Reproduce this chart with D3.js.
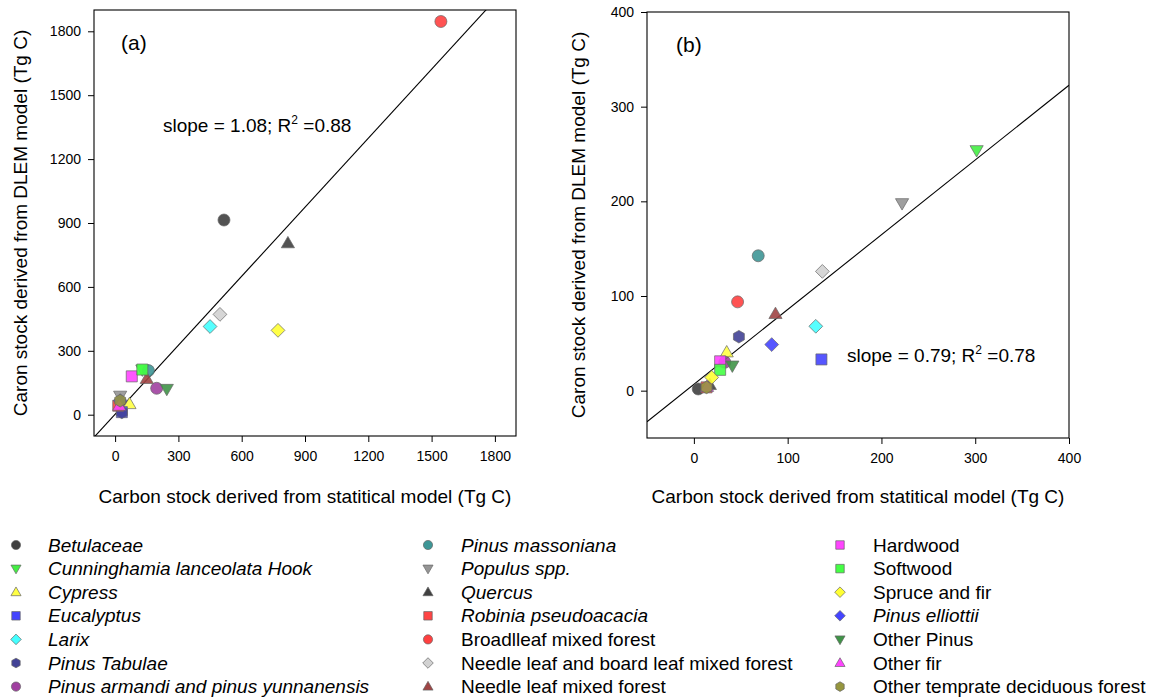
<!DOCTYPE html>
<html><head><meta charset="utf-8">
<script src="https://cdn.jsdelivr.net/npm/d3@7"></script>
<style>body{margin:0;background:#fff}svg{display:block;font-family:"Liberation Sans",Arial,sans-serif}</style>
</head><body><svg id="c" width="1155" height="699"></svg>
<script>
const categories = ["Betulaceae","Cunninghamia lanceolata Hook","Cypress","Eucalyptus","Larix","Pinus Tabulae","Pinus armandi and pinus yunnanensis",
"Pinus massoniana","Populus spp.","Quercus","Robinia pseudoacacia","Broadlleaf mixed forest","Needle leaf and board leaf mixed forest","Needle leaf mixed forest",
"Hardwood","Softwood","Spruce and fir","Pinus elliottii","Other Pinus","Other fir","Other temprate deciduous forest"];
const italicFlags = [1,1,1,1,1,1,1,1,1,1,1,0,0,0,0,0,0,1,0,0,0];
const shapes = ["circle","down","up","square","diamond","hex","circle","circle","down","up","square","circle","diamond","up","square","square","diamond","diamond","down","up","hex"];
const colors = ["#404040","#44ee44","#ffff44","#4444ff","#44ffff","#424296","#a040a0","#3e9696","#959595","#404040","#ff4444","#ff4040","#d2d2d2","#a04444","#ff44ff","#44ff44","#ffff33","#4444ff","#3f9447","#ff44ff","#96963e"];
// Panel (a)
const statA = [516,129,68,32,450,32,197,158,24,819,15,1544,497,150,79,129,772,24,245,20,24];
const dlemA = [914,212,50,12,414,11,124,207,89,805,42,1846,471,168,180,212,396,66,121,42,66];
// Panel (b)
const statB = [4.6,301.5,35,136,130,48,33,68.6,222,17,13.5,46.6,137,87,28,28,19,83,41,14,13.5];
const dlemB = [1.8,254,40.5,33,68,57,30,142.5,198,6,3.5,93.8,126,81,31,22,14,48.7,26.5,4,3.5];
const ticksA = [0,300,600,900,1200,1500,1800];
const ticksB = [0,100,200,300,400];
const fitA = {slope:1.08, intercept:2, label:"slope = 1.08; R", r2:"=0.88", tag:"(a)"};
const fitB = {slope:0.79, intercept:6.7, label:"slope = 0.79; R", r2:"=0.78", tag:"(b)"};

const svg = d3.select("#c");

function markerPath(shape, s){
  // s = half size
  if(shape==="circle") return d3.symbol(d3.symbolCircle, Math.PI*s*s)();
  if(shape==="square") return d3.symbol(d3.symbolSquare, (2*s*0.92)**2)();
  if(shape==="diamond"){ const r=s*1.15; return `M0,${-r}L${r},0L0,${r}L${-r},0Z`; }
  if(shape==="up"){ const h=s*1.9, w=s*1.1; return `M0,${-h*0.6}L${w},${h*0.4}L${-w},${h*0.4}Z`; }
  if(shape==="down"){ const h=s*1.9, w=s*1.1; return `M0,${h*0.6}L${w},${-h*0.4}L${-w},${-h*0.4}Z`; }
  if(shape==="hex"){ const r=s*1.05; let p=[]; for(let i=0;i<6;i++){const a=Math.PI/6+i*Math.PI/3; p.push([r*Math.cos(a), r*Math.sin(a)]);} return "M"+p.map(d=>d.join(",")).join("L")+"Z"; }
}

function panel(opt){
  const {x0,x1,y0,y1,xd,yd,ticks,stat,dlem,fit,tagPos,fitPos,ylabX} = opt;
  const x = d3.scaleLinear().domain(xd).range([x0,x1]);
  const y = d3.scaleLinear().domain(yd).range([y1,y0]);
  const g = svg.append("g");
  const clipId = "clip"+x0;
  g.append("clipPath").attr("id",clipId).append("rect").attr("x",x0).attr("y",y0).attr("width",x1-x0).attr("height",y1-y0);
  // x axis
  const xa = g.append("g").attr("transform",`translate(0,${y1})`).call(d3.axisBottom(x).tickValues(ticks).tickSize(6).tickPadding(9).tickFormat(d3.format("d")));
  const ya = g.append("g").attr("transform",`translate(${x0},0)`).call(d3.axisLeft(y).tickValues(ticks).tickSize(6).tickPadding(7).tickFormat(d3.format("d")));
  [xa,ya].forEach(a=>{a.select(".domain").remove(); a.selectAll("text").attr("font-size",14).attr("font-family","Liberation Sans, Arial").attr("fill","#000"); a.selectAll("line").attr("stroke","#000");});
  // fit line
  g.append("line").attr("clip-path",`url(#${clipId})`)
    .attr("x1",x(xd[0])).attr("y1",y(fit.slope*xd[0]+fit.intercept))
    .attr("x2",x(xd[1])).attr("y2",y(fit.slope*xd[1]+fit.intercept))
    .attr("stroke","#000").attr("stroke-width",1.1);
  // points
  g.selectAll("path.pt").data(categories.map((c,i)=>i)).join("path").attr("class","pt")
    .attr("transform",i=>`translate(${x(stat[i])},${y(dlem[i])})`)
    .attr("d",i=>markerPath(shapes[i],6))
    .attr("fill",i=>colors[i]).attr("fill-opacity",0.9)
    .attr("stroke","#666").attr("stroke-width",0.7);
  // frame
  g.append("rect").attr("x",x0).attr("y",y0).attr("width",x1-x0).attr("height",y1-y0).attr("fill","none").attr("stroke","#000").attr("stroke-width",1.1);
  // tag
  g.append("text").attr("x",tagPos[0]).attr("y",tagPos[1]).attr("font-size",21).text(fit.tag);
  const t = g.append("text").attr("x",fitPos[0]).attr("y",fitPos[1]).attr("font-size",19);
  t.append("tspan").text(fit.label);
  t.append("tspan").attr("font-size",12).attr("dy",-8).text("2");
  t.append("tspan").attr("dy",8).text(" "+fit.r2);
  // axis titles
  g.append("text").attr("x",(x0+x1)/2).attr("y",503).attr("text-anchor","middle").attr("font-size",19).text("Carbon stock derived from statitical model (Tg C)");
  g.append("text").attr("transform",`translate(${ylabX},${(y0+y1)/2}) rotate(-90)`).attr("text-anchor","middle").attr("font-size",19).text("Caron stock derived from DLEM model (Tg C)");
}

panel({x0:94,x1:516,y0:10,y1:436,xd:[-100,1900],yd:[-100,1900],ticks:ticksA,stat:statA,dlem:dlemA,fit:fitA,tagPos:[121,50],fitPos:[163,132],ylabX:27});
panel({x0:647,x1:1069,y0:12,y1:438,xd:[-50,400],yd:[-50,400],ticks:ticksB,stat:statB,dlem:dlemB,fit:fitB,tagPos:[676,52],fitPos:[847,362],ylabX:585});

// legend
const colX = [[16,48],[428,461],[840,873]];
const leg = svg.append("g");
categories.forEach((c,i)=>{
  const col = Math.floor(i/7), row = i%7;
  const cy = 545 + row*23.6;
  leg.append("path").attr("transform",`translate(${colX[col][0]},${cy})`).attr("d",markerPath(shapes[i],4.6))
    .attr("fill",colors[i]).attr("stroke","#666").attr("stroke-width",0.7);
  leg.append("text").attr("x",colX[col][1]).attr("y",cy+6.5).attr("font-size",19)
    .attr("font-style",italicFlags[i]?"italic":"normal").text(c);
});
</script></body></html>
